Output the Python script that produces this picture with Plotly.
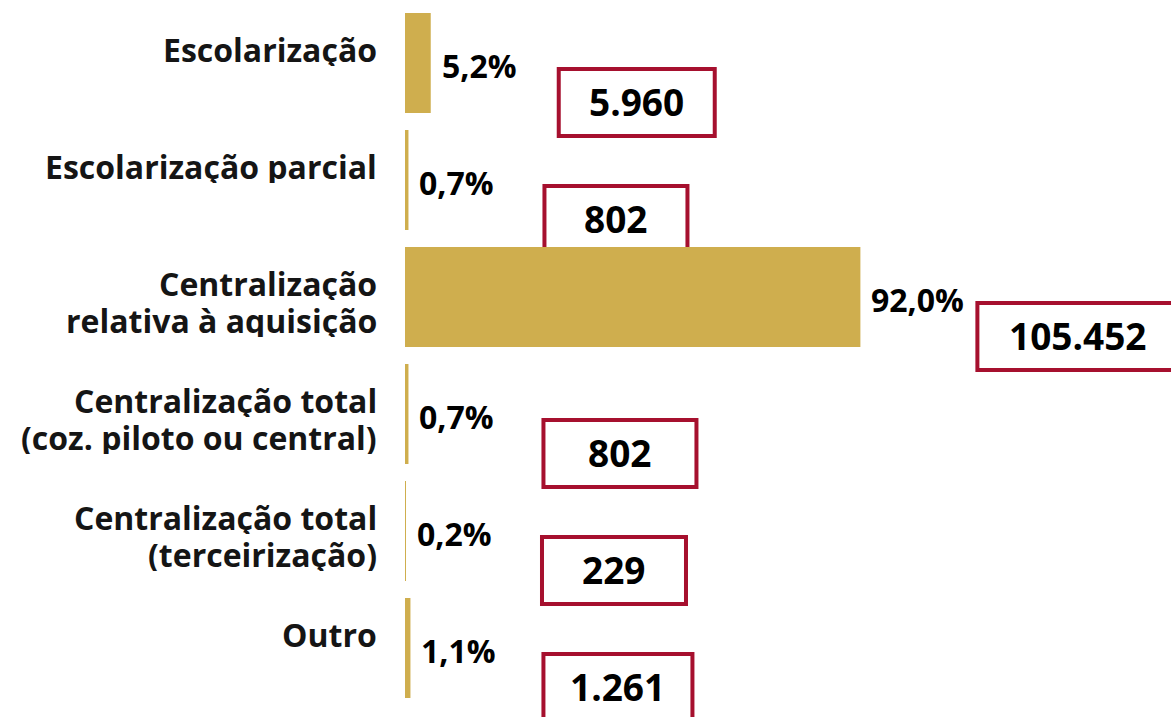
import plotly.graph_objects as go

# ---- data ----
CATEGORIES = [
    "Escolarização",
    "Escolarização parcial",
    "Centralização\nrelativa à aquisição",
    "Centralização total\n(coz. piloto ou central)",
    "Centralização total\n(terceirização)",
    "Outro",
]
PERCENT = [5.2, 0.7, 92.0, 0.7, 0.2, 1.1]
COUNTS = [5960, 802, 105452, 802, 229, 1261]

# ---- style ----
BAR_COLOR = "#CFAE4E"
BOX_COLOR = "#A6102E"
TEXT_COLOR = "#151515"
FONT = "Open Sans"
BOX_DX = [126, 134, 115, 133, 134, 131]   # px gap between bar end and box
BOX_W = [160, 147, 206, 157, 148, 153]    # px box widths


def fmt_pct(v):
    return f"{v:.1f}".replace(".", ",") + "%"


def fmt_int(v):
    return f"{v:,}".replace(",", ".")


pos = list(range(len(CATEGORIES)))

fig = go.Figure(
    go.Bar(
        x=PERCENT,
        y=pos,
        orientation="h",
        width=0.855,
        marker=dict(color=BAR_COLOR, line=dict(width=0)),
        hoverinfo="skip",
    )
)

annotations = []
shapes = []
for i, (cat, p, c) in enumerate(zip(CATEGORIES, PERCENT, COUNTS)):
    for j, line in enumerate(cat.split("\n")):
        annotations.append(dict(
            xref="paper", x=0, yref="y", y=i, text=f"<b>{line}</b>",
            xanchor="right", yanchor="middle", xshift=-26, yshift=14 - 37 * j,
            height=34, valign="middle",
            showarrow=False,
            font=dict(family=FONT, size=32, color=TEXT_COLOR),
        ))
    annotations.append(dict(
        xref="x", x=p, yref="y", y=i, text=f"<b>{fmt_pct(p)}</b>",
        xanchor="left", yanchor="middle", xshift=9, yshift=-2,
        showarrow=False, font=dict(family=FONT, size=32, color="#000"),
    ))
    shapes.append(dict(
        type="rect", layer="below",
        xref="x", xsizemode="pixel", xanchor=p,
        x0=BOX_DX[i] + 2, x1=BOX_DX[i] + BOX_W[i] - 2,
        yref="y", ysizemode="pixel", yanchor=i, y0=-73, y1=-6,
        line=dict(color=BOX_COLOR, width=4), fillcolor="rgba(0,0,0,0)",
    ))
    annotations.append(dict(
        xref="x", x=p, yref="y", y=i, text=f"<b>{fmt_int(c)}</b>",
        xanchor="center", yanchor="middle",
        xshift=BOX_DX[i] + BOX_W[i] / 2, yshift=-38,
        showarrow=False, font=dict(family=FONT, size=37, color="#000"),
    ))

fig.update_layout(
    width=1171, height=717,
    margin=dict(l=405, r=0, t=0, b=0),
    paper_bgcolor="white", plot_bgcolor="white",
    showlegend=False,
    annotations=annotations, shapes=shapes,
    xaxis=dict(range=[0, 154.75], visible=False, fixedrange=True),
    yaxis=dict(range=[5.5897, -0.5385], visible=False, fixedrange=True),
)

fig.write_html(
    "out.html",
    config={"displayModeBar": False},
    post_script="document.body.style.margin='0px';document.body.style.overflow='hidden';",
)
